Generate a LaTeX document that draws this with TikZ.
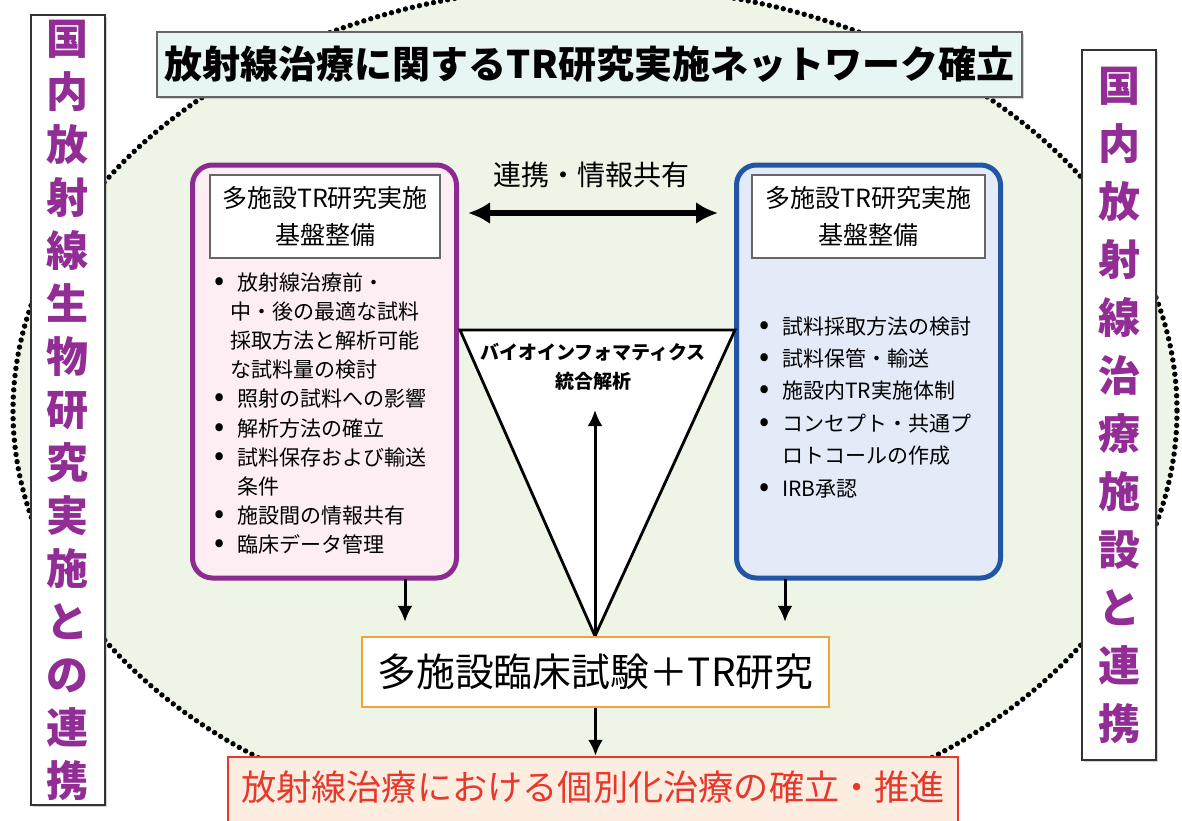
\documentclass[tikz,border=0pt]{standalone}
\usepackage{fontspec}
\setmainfont{Noto Sans CJK JP}
\usetikzlibrary{arrows.meta,positioning,shadows}
\definecolor{ellgreen}{HTML}{EEF4E6}
\definecolor{sidepurple}{HTML}{912D94}
\definecolor{panpurple}{HTML}{8B2A8F}
\definecolor{panpink}{HTML}{FCEEF3}
\definecolor{panblue}{HTML}{2355A5}
\definecolor{panlight}{HTML}{E2EBF7}
\definecolor{titlecyan}{HTML}{E8F5F5}
\definecolor{trialorange}{HTML}{F4A13A}
\definecolor{goalred}{HTML}{E8372B}
\definecolor{goalfill}{HTML}{FDECE0}
\newcommand{\bul}{\makebox[12pt][l]{\hspace{0.5pt}{\fontsize{15}{0}\selectfont\textbullet}}}
\tikzset{
  side/.style={draw=black!80, line width=1pt, fill=white, text=sidepurple, align=center, inner sep=0pt,
    minimum width=37pt, drop shadow={shadow xshift=1.2pt, shadow yshift=-1.2pt, opacity=0.35}},
  panel/.style={rounded corners=10pt, line width=2.5pt, minimum width=132pt, minimum height=206.5pt},
  hdr/.style={draw=black!60, fill=white, line width=0.8pt, align=center, font=\fontsize{12.5}{18.5}\selectfont,
    minimum width=115pt, minimum height=41.5pt},
  lst/.style={align=left, inner sep=0pt, anchor=north west},
  arr/.style={-{Latex[length=8pt,width=7.5pt]}, line width=1.5pt},
  dbl/.style={{Latex[length=11pt,width=11pt]}-{Latex[length=11pt,width=11pt]}, line width=2.6pt},
}
\begin{document}
\begin{tikzpicture}[x=0.5pt, y=-0.5pt]
  \useasboundingbox (0,0) rectangle (1182,820);
  \clip (0,0) rectangle (1182,820);
  \fill[white] (0,0) rectangle (1182,820);
  % network ellipse
  \draw[fill=ellgreen, line width=2.7pt, line cap=round, dash pattern=on 0pt off 3.6pt]
    (595,411) ellipse [x radius=582, y radius=425];
  % side boxes
  \node[side, minimum height=395pt, font=\fontsize{21}{26.5}\selectfont\bfseries] (bio) at (67.5,410)
    {国\\内\\放\\射\\線\\生\\物\\研\\究\\実\\施\\と\\の\\連\\携};
  \node[side, minimum height=355pt, font=\fontsize{21}{29}\selectfont\bfseries] (clinic) at (1119,405)
    {国\\内\\放\\射\\線\\治\\療\\施\\設\\と\\連\\携};
  % title
  \node[draw=black!60, line width=0.8pt, fill=titlecyan, minimum width=432.5pt, minimum height=32.5pt,
    font=\fontsize{19}{22}\selectfont\bfseries, drop shadow={shadow xshift=1.2pt, shadow yshift=-1.2pt, opacity=0.35}]
    (title) at (589.5,64.5) {放射線治療に関するTR研究実施ネットワーク確立};
  % panels
  \node[panel, draw=panpurple, fill=panpink] (lpanel) at (324.5,371.5) {};
  \node[panel, draw=panblue, fill=panlight] (rpanel) at (868.5,371.5) {};
  \node[hdr] (lhdr) at (325,216.5) {多施設TR研究実施\\基盤整備};
  \node[hdr, minimum width=116.5pt] (rhdr) at (868.5,216.5) {多施設TR研究実施\\基盤整備};
  \node[lst, font=\fontsize{10.5}{14.6}\selectfont] (llist) at (213,272)
    {\bul 放射線治療前・\\
     \hspace{8.5pt}中・後の最適な試料\\
     \hspace{8.5pt}採取方法と解析可能\\
     \hspace{8.5pt}な試料量の検討\\
     \bul 照射の試料への影響\\
     \bul 解析方法の確立\\
     \bul 試料保存および輸送\\
     \hspace{12pt}条件\\
     \bul 施設間の情報共有\\
     \bul 臨床データ管理};
  \node[lst, font=\fontsize{10.5}{16.2}\selectfont] (rlist) at (758,316)
    {\bul 試料採取方法の検討\\
     \bul 試料保管・輸送\\
     \bul 施設内TR実施体制\\
     \bul コンセプト・共通プ\\
     \hspace{12pt}ロトコールの作成\\
     \bul IRB承認};
  % sharing arrow
  \coordinate (la) at (468,213);
  \coordinate (ra) at (718,213);
  \draw[dbl] (la) -- (ra);
  \node[font=\fontsize{14}{16}\selectfont] (share) at (591,175) {連携・情報共有};
  % bioinformatics triangle
  \coordinate (tl) at (460,330);
  \coordinate (tr) at (735,330);
  \coordinate (tb) at (595,636);
  \draw[fill=white, line width=1.4pt, line join=miter] (tl) -- (tr) -- (tb) -- cycle;
  \node[align=center, font=\fontsize{9.5}{14.5}\selectfont\bfseries] (bioinfo) at (593,367)
    {バイオインフォマティクス\\統合解析};
  % trials and goal
  \node[draw=trialorange, line width=1.2pt, fill=white, minimum width=233.5pt, minimum height=35pt,
    font=\fontsize{19.4}{22}\selectfont] (trial) at (595.5,672) {多施設臨床試験＋TR研究};
  \node[draw=goalred, line width=1.2pt, fill=goalfill, text=goalred, minimum width=365pt, minimum height=40pt,
    text height=15pt, text depth=11.5pt, font=\fontsize{17.6}{20}\selectfont] (goal) at (593,797)
    {放射線治療における個別化治療の確立・推進};
  \coordinate (upend) at (595,410);
  \draw[arr] (tb) -- (upend);
  \coordinate (ld) at (405,579);
  \coordinate (rd) at (785,579);
  \draw[arr, shorten >=7pt] (ld) -- (ld |- trial.north);
  \draw[arr, shorten >=7pt] (rd) -- (rd |- trial.north);
  \draw[arr] (trial.south) -- (trial.south |- goal.north);
\end{tikzpicture}
\end{document}
